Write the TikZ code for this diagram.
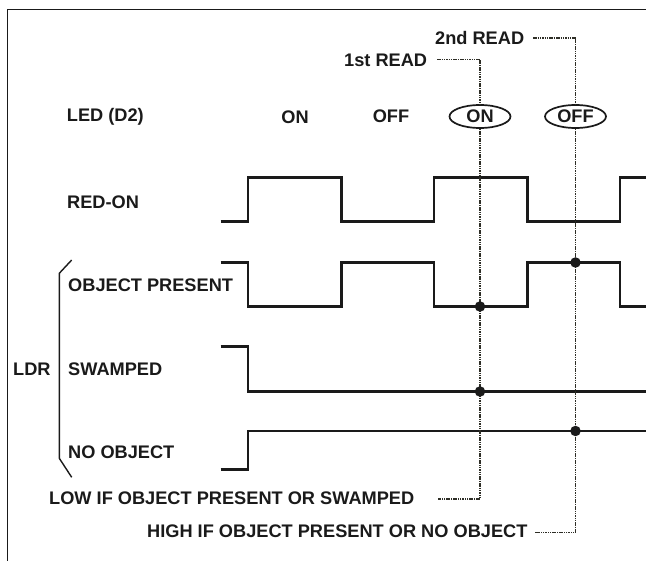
\documentclass[tikz,border=0pt]{standalone}
\usepackage{fontspec}
\setmainfont{Liberation Sans}
\usetikzlibrary{shapes.geometric}
\definecolor{ink}{HTML}{1A1A1A}
\definecolor{dotink}{HTML}{2E2E26}
\begin{document}
\begin{tikzpicture}[x=1pt,y=-1pt,
  lbl/.style={inner sep=0pt,anchor=west,font=\fontsize{18.2}{20}\selectfont\bfseries,text=ink},
  clbl/.style={inner sep=0pt,font=\fontsize{18.2}{20}\selectfont\bfseries,text=ink},
  wave/.style={line width=2.6pt,ink,line join=miter},
  lead/.style={line width=1.7pt,dotink,dash pattern=on 1.5pt off 0.8pt},
  oval/.style={ellipse,draw=ink,line width=1.7pt,minimum width=61pt,minimum height=23pt,inner sep=0pt,font=\fontsize{18.2}{20}\selectfont\bfseries,text=ink},
  frame/.style={line width=1.6pt,ink},
  brace/.style={line width=1.4pt,ink},
  junction/.style={circle,fill=ink,inner sep=0pt,minimum size=10.5pt}]
\useasboundingbox (0,0) rectangle (646,561);
% frame
\draw[frame] (7.5,561) -- (7.5,9.5) -- (646,9.5);
% row labels
\node[lbl] (led) at (66.7,117) {LED (D2)};
\node[clbl] (on1) at (295,117) {ON};
\node[clbl] (off1) at (391,116.5) {OFF};
\node[oval] (on2) at (480,116.5) {ON};
\node[oval] (off2) at (575.5,116.5) {OFF};
\node[lbl] (redon) at (67,202) {RED-ON};
\node[lbl] (objp) at (68,285) {OBJECT PRESENT};
\node[lbl] (swmp) at (68,369) {SWAMPED};
\node[lbl] (noobj) at (68,452) {NO OBJECT};
\node[lbl] (ldr) at (13,369) {LDR};
\node[lbl] (read1) at (344,60.5) {1st READ};
\node[lbl] (read2) at (435,38) {2nd READ};
\node[lbl] (low) at (49,498.5) {LOW IF OBJECT PRESENT OR SWAMPED};
\node[lbl] (high) at (147,531.5) {HIGH IF OBJECT PRESENT OR NO OBJECT};
% brace
\draw[brace] (71.7,260) -- (59.3,273.3) -- (59.3,458.3) -- (71.7,477.3);
% waveforms
\draw[wave] (220.5,221.5) -| (248,177.5) -| (341.5,221.5) -| (434,177.5) -| (527.5,221.5) -| (620,177.5) -- (646,177.5);
\draw[wave] (220.5,262.5) -| (248,306.5) -| (341.5,262.5) -| (434,306.5) -| (527.5,262.5) -| (620,306.5) -- (646,306.5);
\draw[wave] (220.5,346.5) -| (248,391.5) -- (646,391.5);
\draw[wave] (220.5,469.5) -| (248,431) -- (646,431);
% read leaders
\coordinate (r1s) at (437,59.5);
\coordinate (r2s) at (533,38);
\coordinate (lows) at (437.5,499);
\coordinate (highs) at (534.5,532.5);
\draw[lead] (r1s) -| (on2.north);
\draw[lead] (r2s) -| (off2.north);
\draw[lead] (on2.south) |- (lows);
\draw[lead] (off2.south) |- (highs);
% junction dots
\node[junction] (j1) at (480,306.5) {};
\node[junction] (j2) at (575.5,262.5) {};
\node[junction] (j3) at (480,391.5) {};
\node[junction] (j4) at (575.5,431) {};
\end{tikzpicture}
\end{document}
